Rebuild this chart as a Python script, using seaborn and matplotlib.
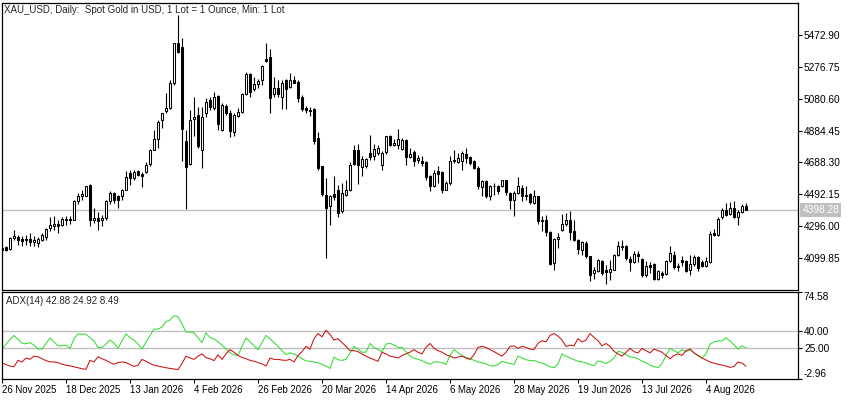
import matplotlib
matplotlib.use('Agg')
import matplotlib.pyplot as plt
import seaborn as sns
import numpy as np
import pandas as pd

# daily bars, XAU_USD
dates = pd.bdate_range('2025-11-26', periods=187, freq='C',
                       holidays=['2025-12-25', '2026-01-01', '2026-04-03'])

opens = [4163.4, 4169.5, 4157.3, 4224.7, 4230.8, 4218.6, 4210.4, 4218.6, 4198.2, 4194.1,
         4210.4, 4230.8, 4286.0, 4296.2, 4312.6, 4306.4, 4333.0, 4341.2, 4337.1, 4449.5,
         4484.2, 4484.2, 4549.6, 4337.1, 4347.3, 4337.1, 4347.3, 4449.5, 4500.5, 4480.1,
         4484.2, 4521.0, 4623.1, 4592.5, 4633.4, 4619.0, 4627.2, 4680.3, 4766.2, 4831.5,
         4946.0, 5007.3, 5021.6, 5174.8, 5424.1, 5399.6, 4817.2, 4680.3, 4954.1, 4980.7,
         4766.2, 4990.9, 5072.6, 5021.6, 5097.2, 4888.8, 5035.9, 4995.0, 4872.4, 4974.6,
         5001.1, 5109.4, 5232.0, 5138.0, 5170.7, 5195.2, 5321.9, 5334.2, 5109.4, 5144.1,
         5089.0, 5195.2, 5150.3, 5195.2, 5185.0, 5089.0, 5021.6, 5011.3, 5015.4, 4837.7,
         4664.0, 4490.3, 4418.8, 4496.5, 4521.0, 4388.2, 4490.3, 4516.9, 4762.1, 4762.1,
         4659.9, 4664.0, 4745.7, 4725.3, 4745.7, 4674.2, 4749.8, 4847.9, 4796.8, 4796.8,
         4770.2, 4827.4, 4721.2, 4749.8, 4700.7, 4698.7, 4688.5, 4602.7, 4545.5, 4633.3,
         4627.2, 4520.9, 4561.8, 4694.6, 4688.5, 4694.6, 4741.6, 4721.2, 4698.7, 4653.7,
         4537.3, 4572.0, 4480.1, 4541.4, 4545.5, 4545.5, 4578.1, 4500.5, 4459.6, 4500.5,
         4531.2, 4484.2, 4496.4, 4439.2, 4480.1, 4326.8, 4337.0, 4259.4, 4071.4, 4218.5,
         4271.7, 4312.5, 4337.0, 4265.5, 4214.5, 4149.1, 4196.0, 4112.4, 4010.2, 4020.4,
         4081.7, 4026.5, 4014.3, 4030.6, 4122.6, 4169.6, 4173.7, 4096.0, 4075.6, 4128.7,
         4096.0, 3999.9, 4061.3, 4067.4, 3973.4, 4010.2, 4006.1, 4081.7, 4122.6, 4047.0,
         4092.0, 4081.7, 4026.5, 4067.4, 4108.3, 4075.6, 4051.0, 4075.6, 4255.4, 4245.2,
         4353.5, 4394.3, 4373.9, 4408.6, 4353.5, 4382.1, 4422.9]

highs = [4173.6, 4177.7, 4230.8, 4271.7, 4245.1, 4234.9, 4245.1, 4255.4, 4234.9, 4230.8,
         4255.4, 4286.0, 4353.5, 4357.5, 4337.1, 4353.5, 4361.6, 4361.6, 4459.7, 4500.5,
         4521.0, 4545.5, 4555.7, 4408.6, 4382.0, 4367.7, 4459.7, 4510.8, 4504.6, 4490.3,
         4525.1, 4633.4, 4639.5, 4643.6, 4643.6, 4627.2, 4688.5, 4770.2, 4888.8, 4946.0,
         4995.0, 5113.5, 5195.2, 5424.1, 5593.7, 5450.6, 4888.8, 5011.3, 5093.1, 5031.8,
         5031.8, 5082.9, 5089.0, 5123.7, 5103.3, 5052.2, 5048.1, 5011.3, 4990.9, 5021.6,
         5113.5, 5246.3, 5240.2, 5211.6, 5203.4, 5287.2, 5420.0, 5383.2, 5211.6, 5195.2,
         5195.2, 5199.3, 5236.1, 5219.7, 5195.2, 5103.3, 5035.9, 5031.8, 5021.6, 4872.4,
         4668.1, 4592.5, 4490.3, 4602.7, 4551.6, 4561.8, 4582.3, 4688.5, 4796.8, 4802.9,
         4725.3, 4715.1, 4858.1, 4802.9, 4796.8, 4755.9, 4852.0, 4858.1, 4831.5, 4892.8,
         4837.6, 4831.5, 4776.3, 4766.1, 4735.5, 4729.3, 4694.6, 4612.9, 4643.5, 4663.9,
         4633.3, 4572.0, 4729.3, 4762.0, 4745.7, 4755.9, 4776.3, 4725.3, 4704.8, 4663.9,
         4582.2, 4582.2, 4551.6, 4561.8, 4551.6, 4582.2, 4582.2, 4504.6, 4510.7, 4598.6,
         4551.6, 4541.4, 4500.5, 4520.9, 4484.2, 4357.5, 4367.7, 4265.5, 4224.7, 4255.3,
         4373.8, 4377.9, 4388.1, 4332.9, 4218.5, 4204.2, 4204.2, 4116.5, 4047.0, 4096.0,
         4092.0, 4061.3, 4092.0, 4128.7, 4204.3, 4210.4, 4183.9, 4112.4, 4143.0, 4143.0,
         4102.1, 4081.7, 4075.6, 4071.5, 4026.5, 4020.4, 4092.0, 4173.7, 4143.0, 4071.5,
         4116.5, 4092.0, 4122.6, 4122.6, 4116.5, 4092.0, 4108.3, 4265.6, 4279.9, 4353.5,
         4408.6, 4439.3, 4443.4, 4449.5, 4394.3, 4435.2, 4439.3]

lows = [4132.8, 4143.0, 4153.2, 4210.4, 4183.9, 4173.6, 4183.9, 4173.6, 4173.6, 4169.5,
        4204.3, 4214.5, 4265.6, 4275.8, 4255.4, 4296.2, 4306.4, 4312.6, 4333.0, 4435.2,
        4459.7, 4480.1, 4300.3, 4316.6, 4271.7, 4300.3, 4337.1, 4435.2, 4439.2, 4408.6,
        4459.7, 4516.9, 4551.6, 4582.3, 4602.7, 4537.3, 4623.1, 4668.1, 4762.1, 4776.4,
        4899.0, 4990.9, 5015.4, 5164.6, 5358.7, 4694.7, 4402.5, 4674.2, 4847.9, 4776.4,
        4653.8, 4966.4, 5011.3, 5011.3, 4884.7, 4878.5, 4980.7, 4843.8, 4847.9, 4970.5,
        4990.9, 5103.3, 5093.1, 5129.8, 5144.1, 5164.6, 5307.6, 4995.0, 5089.0, 5093.1,
        5015.4, 5015.4, 5144.1, 5174.8, 5062.4, 5007.3, 4990.9, 4974.6, 4802.9, 4643.6,
        4484.2, 4102.1, 4306.4, 4459.7, 4353.5, 4377.9, 4480.1, 4510.8, 4674.2, 4557.7,
        4606.8, 4653.8, 4704.9, 4704.9, 4735.5, 4643.6, 4741.6, 4786.6, 4786.6, 4770.2,
        4766.1, 4674.2, 4715.0, 4668.0, 4684.4, 4663.9, 4582.2, 4510.7, 4537.3, 4561.8,
        4500.5, 4516.9, 4551.6, 4684.4, 4684.4, 4643.5, 4684.4, 4674.2, 4647.6, 4525.0,
        4480.1, 4469.9, 4455.5, 4490.3, 4496.4, 4537.3, 4490.3, 4402.4, 4361.6, 4496.4,
        4449.4, 4455.5, 4435.1, 4435.1, 4312.5, 4265.5, 4234.9, 4061.2, 4026.5, 4163.4,
        4265.5, 4300.3, 4214.5, 4204.2, 4128.6, 4122.5, 4102.1, 3959.1, 3973.4, 4014.3,
        3999.9, 3944.8, 3969.3, 4026.5, 4116.5, 4153.2, 4092.0, 4020.4, 4071.5, 4075.6,
        3985.7, 3985.7, 4010.2, 3969.3, 3965.3, 3979.5, 3999.9, 4075.6, 4034.7, 4020.4,
        4055.2, 4014.3, 3999.9, 4055.2, 4020.4, 4047.0, 4047.0, 4071.5, 4235.0, 4235.0,
        4341.2, 4357.5, 4367.8, 4347.3, 4306.5, 4378.1, 4396.0]

closes = [4153.2, 4149.1, 4224.7, 4239.0, 4214.5, 4206.3, 4218.6, 4198.2, 4214.5, 4218.6,
          4245.1, 4279.9, 4306.4, 4312.6, 4296.2, 4341.2, 4341.2, 4337.1, 4449.5, 4484.2,
          4496.5, 4541.4, 4333.0, 4347.3, 4326.9, 4347.3, 4449.5, 4500.5, 4459.7, 4459.7,
          4516.9, 4598.6, 4592.5, 4627.2, 4612.9, 4602.7, 4674.2, 4766.2, 4831.5, 4939.8,
          4990.9, 5021.6, 5178.9, 5420.0, 5368.9, 4892.8, 4659.9, 4950.0, 4970.5, 4786.6,
          4970.5, 5062.4, 5027.7, 5093.1, 4925.5, 5042.0, 4990.9, 4878.5, 4980.7, 5001.1,
          5109.4, 5232.0, 5123.7, 5170.7, 5191.1, 5281.0, 5313.7, 5082.9, 5144.1, 5109.4,
          5178.9, 5138.0, 5195.2, 5178.9, 5082.9, 5015.4, 5011.3, 5007.3, 4817.2, 4653.8,
          4496.5, 4408.6, 4480.1, 4476.0, 4377.9, 4500.5, 4516.9, 4674.2, 4680.3, 4674.2,
          4709.0, 4709.0, 4721.2, 4770.2, 4776.4, 4745.7, 4847.9, 4796.8, 4807.0, 4831.5,
          4827.4, 4721.2, 4741.6, 4694.6, 4715.0, 4684.4, 4598.6, 4545.5, 4623.1, 4619.0,
          4520.9, 4561.8, 4694.6, 4700.7, 4715.0, 4745.7, 4715.0, 4684.4, 4653.7, 4541.4,
          4572.0, 4480.1, 4545.5, 4545.5, 4510.7, 4578.1, 4504.6, 4455.5, 4500.5, 4545.5,
          4484.2, 4490.3, 4443.3, 4480.1, 4326.8, 4332.9, 4259.4, 4067.3, 4218.5, 4228.8,
          4312.5, 4337.0, 4259.4, 4214.5, 4157.3, 4198.1, 4114.0, 3999.9, 4030.6, 4092.0,
          4010.2, 4014.3, 4034.7, 4122.6, 4173.7, 4177.8, 4102.1, 4075.6, 4128.7, 4116.5,
          3999.9, 4055.2, 4047.0, 3973.4, 4020.4, 3999.9, 4081.7, 4132.8, 4047.0, 4055.2,
          4075.6, 4020.4, 4067.4, 4108.3, 4040.8, 4055.2, 4081.7, 4251.3, 4245.2, 4341.2,
          4394.3, 4367.8, 4408.6, 4353.5, 4382.1, 4422.9, 4398.28]

# ADX(14) lines: +DI and -DI (main ADX line is hidden)
plus_di = [23.8, 28.2, 32.5, 36.0, 32.5, 29.0, 28.5, 29.6, 27.3, 23.8,
           23.8, 28.8, 33.7, 30.2, 26.7, 26.7, 27.3, 24.4, 33.1, 37.4,
           37.1, 37.1, 33.9, 31.1, 25.3, 25.3, 28.2, 31.9, 29.0, 24.4,
           31.1, 37.4, 33.9, 31.9, 28.2, 23.8, 30.2, 36.0, 41.7, 41.7,
           43.5, 48.4, 49.8, 53.6, 52.7, 46.3, 39.1, 39.1, 38.3, 33.9,
           29.6, 38.3, 33.9, 33.1, 30.2, 27.3, 23.8, 20.4, 18.7, 18.1,
           26.2, 33.9, 30.2, 26.7, 23.3, 29.6, 36.0, 33.1, 29.6, 26.2,
           22.4, 18.9, 20.4, 19.5, 17.5, 15.2, 13.2, 12.9, 12.3, 11.7,
           10.0, 8.6, 6.5, 16.6, 14.3, 13.7, 14.6, 20.4, 26.2, 23.8,
           21.0, 21.0, 28.8, 25.3, 23.3, 21.5, 28.2, 29.0, 27.3, 25.3,
           25.3, 21.5, 17.5, 15.8, 14.6, 13.5, 11.7, 10.3, 12.3, 12.3,
           11.7, 10.0, 18.1, 23.3, 20.4, 18.1, 16.3, 15.2, 13.7, 12.3,
           11.7, 10.6, 8.8, 8.6, 10.0, 12.9, 11.7, 10.9, 10.0, 17.5,
           15.8, 14.3, 13.5, 13.5, 12.3, 11.2, 9.7, 8.0, 7.1, 10.6,
           19.5, 17.5, 15.8, 14.3, 12.9, 12.3, 11.4, 10.0, 8.8, 13.2,
           12.3, 10.9, 12.9, 15.8, 21.8, 21.0, 18.7, 16.9, 16.3, 15.2,
           12.9, 11.7, 9.4, 8.3, 7.1, 10.9, 18.1, 24.4, 22.4, 20.4,
           23.3, 21.5, 23.3, 20.4, 18.1, 15.8, 19.5, 28.2, 30.2, 31.1,
           31.1, 33.9, 31.1, 27.6, 23.8, 26.7, 24.92]

minus_di = [11.4, 10.0, 8.6, 8.0, 13.7, 12.3, 15.8, 14.6, 17.5, 16.9,
            15.2, 13.5, 12.3, 12.3, 11.7, 10.3, 9.4, 8.8, 8.0, 7.1,
            6.2, 5.7, 13.7, 12.3, 16.9, 15.2, 13.7, 11.7, 10.3, 11.7,
            12.3, 11.7, 10.0, 8.3, 9.4, 14.6, 12.9, 10.9, 9.4, 8.6,
            7.7, 7.1, 6.5, 6.0, 5.4, 10.9, 17.5, 15.8, 14.6, 17.5,
            19.5, 16.1, 15.2, 13.5, 18.7, 14.6, 19.5, 23.3, 21.0, 18.1,
            16.3, 15.2, 13.7, 12.9, 11.7, 10.6, 8.6, 15.8, 14.6, 14.6,
            14.0, 13.7, 14.6, 12.3, 18.1, 21.5, 26.2, 23.8, 33.1, 37.7,
            34.8, 40.6, 36.8, 31.9, 33.1, 29.6, 26.2, 22.4, 22.4, 21.5,
            19.5, 17.5, 15.8, 14.3, 12.9, 21.0, 19.5, 17.5, 16.6, 15.8,
            18.1, 19.5, 21.0, 23.3, 21.0, 19.5, 25.3, 28.8, 24.4, 22.4,
            21.0, 18.7, 17.5, 15.8, 16.6, 17.5, 15.8, 14.6, 18.7, 25.3,
            26.2, 25.3, 23.3, 21.5, 19.5, 17.5, 21.0, 26.2, 26.7, 24.4,
            26.2, 25.3, 23.8, 23.3, 29.0, 31.3, 30.2, 36.0, 37.7, 35.4,
            31.9, 26.2, 27.3, 26.7, 33.1, 30.2, 31.9, 37.7, 34.2, 31.3,
            26.7, 28.8, 26.2, 21.8, 19.5, 17.5, 21.0, 24.4, 21.5, 20.4,
            24.4, 22.4, 20.4, 23.8, 22.4, 21.0, 18.1, 15.2, 18.1, 19.5,
            18.1, 22.4, 23.8, 20.4, 18.1, 15.8, 14.0, 12.3, 11.2, 10.3,
            9.4, 8.6, 7.4, 8.3, 12.3, 11.2, 8.49]

adx_last = 42.88
price_ticks = [4099.85, 4296.00, 4492.15, 4688.30, 4884.45, 5080.60, 5276.75, 5472.90]
adx_ticks = [-2.96, 25.00, 40.00, 74.58]
adx_levels = [25, 40]
title = 'XAU_USD, Daily:  Spot Gold in USD, 1 Lot = 1 Ounce, Min: 1 Lot'

df = pd.DataFrame({'date': dates, 'open': opens, 'high': highs, 'low': lows,
                   'close': closes, 'pdi': plus_di, 'mdi': minus_di})
df['idx'] = np.arange(len(df))

sns.set_theme(style='white')
plt.rcParams['font.family'] = ['Liberation Sans', 'DejaVu Sans']
plt.rcParams['font.size'] = 7

fig = plt.figure(figsize=(8.5, 4), dpi=100)
ax = fig.add_axes([0.002, 0.275, 0.9365, 0.71825])
ax2 = fig.add_axes([0.002, 0.0525, 0.9365, 0.21675])

# candles
up = df['close'] >= df['open']
ax.vlines(df['idx'], df['low'], df['high'], color='black', linewidth=0.8, zorder=2)
body = (df['close'] - df['open']).abs().clip(lower=1.5)
bottom = df[['open', 'close']].min(axis=1)
ax.bar(df['idx'], body, bottom=bottom, width=0.55,
       color=np.where(up, 'white', 'black'), edgecolor='black', linewidth=0.75, zorder=3)

last = df['close'].iloc[-1]
ax.axhline(last, color='#c0c0c0', linewidth=1, zorder=1)
ax.text(1.006, last, f'{last:.2f}', transform=ax.get_yaxis_transform(), ha='left', va='center',
        color='white', fontsize=7.3, bbox=dict(boxstyle='square,pad=0.2', fc='#c0c0c0', ec='none'))

ax.set_xlim(-0.075, 198.925)
ax.set_ylim(3905.5, 5669.1)
ax.yaxis.tick_right()
ax.set_yticks(price_ticks)
ax.set_yticklabels([f'{v:.2f}' for v in price_ticks])
ax.set_xticks([])
ax.text(0.003, 0.992, title, transform=ax.transAxes, ha='left', va='top', fontsize=7)

# ADX panel
for lv in adx_levels:
    ax2.axhline(lv, color='#c0c0c0', linewidth=1, zorder=1)
sns.lineplot(data=df, x='idx', y='pdi', color='#33dd33', linewidth=0.75, ax=ax2, legend=False)
sns.lineplot(data=df, x='idx', y='mdi', color='#cc1111', linewidth=0.75, ax=ax2, legend=False)
ax2.set_xlim(-0.075, 198.925)
ax2.set_ylim(-2.96, 74.58)
ax2.yaxis.tick_right()
ax2.set_yticks(adx_ticks)
ax2.set_yticklabels([f'{v:.2f}' for v in adx_ticks])
ylabs = ax2.get_yticklabels()
ylabs[0].set_va('bottom')
ylabs[-1].set_va('top')
ax2.set_ylabel('')
ax2.set_xlabel('')
ax2.text(0.005, 0.96, f'ADX(14) {adx_last:.2f} {plus_di[-1]:.2f} {minus_di[-1]:.2f}',
         transform=ax2.transAxes, ha='left', va='top', fontsize=7)

tick_pos = list(range(0, len(df), 16))
ax2.set_xticks(tick_pos)
ax2.set_xticklabels([f"{d.day} {d.strftime('%b %Y')}" for d in df['date'].iloc[tick_pos]], ha='left')

for a in (ax, ax2):
    a.tick_params(axis='both', which='both', direction='out', length=3, width=0.8,
                  color='black', labelsize=7.3, pad=1.5, labelcolor='black')
    a.tick_params(axis='y', left=False, right=True)
    a.tick_params(axis='x', bottom=True, top=False, labelsize=6.9)
    for s in a.spines.values():
        s.set_color('black')
        s.set_linewidth(0.9)
    a.grid(False)
ax.tick_params(axis='x', bottom=False)

fig.savefig('out.png', dpi=100, facecolor='white')
